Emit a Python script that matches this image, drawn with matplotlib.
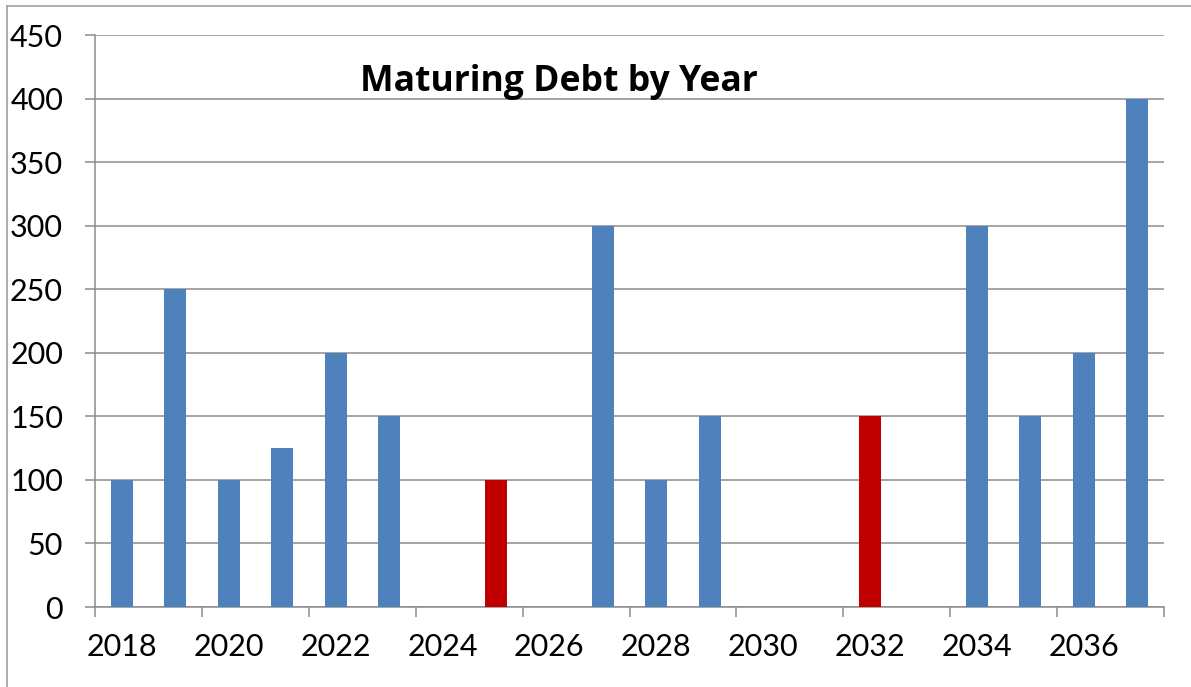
import matplotlib.pyplot as plt
from matplotlib.lines import Line2D

# maturing debt per year (red = highlighted years)
years = list(range(2018, 2038))
debt = [100, 250, 100, 125, 200, 150, 0, 100, 0, 300,
        100, 150, 0, 0, 150, 0, 300, 150, 200, 400]
highlight = [2025, 2032]
tick_years = years[::2]

blue = '#4F81BD'
red = '#C00000'
grid_col = '#8C8C8C'

plt.rcParams['font.family'] = ['Lato', 'DejaVu Sans']

fig = plt.figure(figsize=(11.91, 6.87), dpi=100)
ax = fig.add_axes([0.0798, 0.1164, 0.8975, 0.8326])

x = list(range(len(years)))
colors = [red if y in highlight else blue for y in years]
ax.bar(x, debt, width=0.41, color=colors, zorder=3)

ax.set_xlim(-0.5, len(years) - 0.5)
ax.set_ylim(0, 450)
ax.set_yticks(range(0, 451, 50))
ax.grid(axis='y', color=grid_col, linewidth=1.1, zorder=0)

# ticks between pairs of years, labels under the first year of each pair
ax.set_xticks([i - 0.5 for i in range(0, len(years) + 1, 2)])
ax.set_xticklabels([])
ax.set_xticks([years.index(y) for y in tick_years], minor=True)
ax.set_xticklabels([str(y) for y in tick_years], minor=True)
ax.tick_params(axis='x', which='major', length=7, width=1.1, color=grid_col)
ax.tick_params(axis='x', which='minor', length=0, pad=19, labelsize=22)
ax.tick_params(axis='y', length=7, width=1.1, color=grid_col, pad=16, labelsize=22)

for side in ['top', 'right']:
    ax.spines[side].set_visible(False)
for side in ['left', 'bottom']:
    ax.spines[side].set_color(grid_col)
    ax.spines[side].set_linewidth(1.1)

ax.text(0.4336, 0.902, 'Maturing Debt by Year', transform=ax.transAxes,
        ha='center', va='baseline', fontsize=25.6, fontweight='bold',
        family=['Open Sans', 'DejaVu Sans'])

# thin frame along the top and left edge
fig.add_artist(Line2D([0.0059, 1.0], [0.9913, 0.9913], color='#A0A0A0', linewidth=1.2))
fig.add_artist(Line2D([0.0059, 0.0059], [0.0, 0.9913], color='#A0A0A0', linewidth=1.2))

fig.savefig('out.png', dpi=100)
